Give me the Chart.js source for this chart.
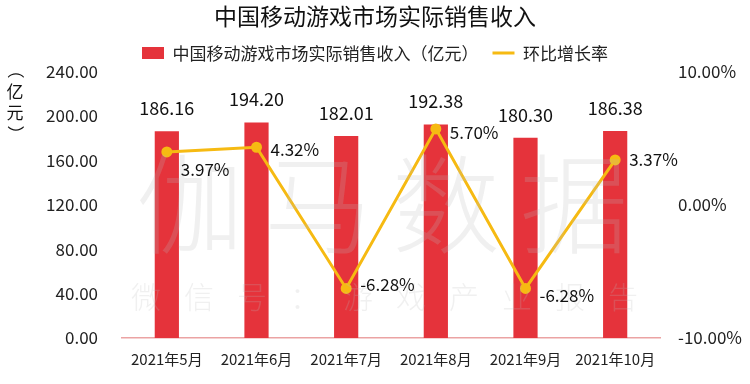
<!DOCTYPE html>
<html>
<head>
<meta charset="utf-8">
<script src="https://cdn.jsdelivr.net/npm/chart.js@4"></script>
<style>
  html, body { margin: 0; padding: 0; background: #fff; }
  #wrap { width: 750px; height: 384px; }
</style>
</head>
<body>
<div id="wrap"><canvas id="c"></canvas></div>
<script>
const months = ['2021年5月', '2021年6月', '2021年7月', '2021年8月', '2021年9月', '2021年10月']
const revenue = [186.16, 194.20, 182.01, 192.38, 180.30, 186.38]
const growth = [3.97, 4.32, -6.28, 5.70, -6.28, 3.37]
const leftTicks = [0, 40, 80, 120, 160, 200, 240]
const rightTicks = [-10, 0, 10]

const FONT = '"Noto Sans CJK SC", "Noto Sans", sans-serif'

// labels over bars and next to points, plus axis unit and watermark
const extras = {
    id: 'extras',
    afterDatasetsDraw(chart){
        const ctx = chart.ctx
        ctx.save()

        // watermark
        ctx.fillStyle = 'rgba(185,185,185,0.22)'
        ctx.textAlign = 'center'
        ctx.textBaseline = 'middle'
        ctx.font = '200 108px ' + FONT
        const big = '伽马数据'
        const bigX = [190, 318, 446, 574]
        big.split('').forEach((ch, i) => ctx.fillText(ch, bigX[i], 204))
        ctx.font = '200 30px ' + FONT
        const small = '微信号：游戏产业报告'
        small.split('').forEach((ch, i) => ctx.fillText(ch, 146 + i * 53, 297))

        // bar values
        ctx.fillStyle = '#111'
        ctx.font = '18px ' + FONT
        ctx.textAlign = 'center'
        ctx.textBaseline = 'bottom'
        chart.getDatasetMeta(0).data.forEach((bar, i) => {
            ctx.fillText(revenue[i].toFixed(2), bar.x, bar.y - 14)
        })

        // growth values
        const dy = [18, 2, -4, 4, 7, 0]
        ctx.font = '17px ' + FONT
        ctx.textAlign = 'left'
        ctx.textBaseline = 'middle'
        chart.getDatasetMeta(1).data.forEach((pt, i) => {
            ctx.fillText(growth[i].toFixed(2) + '%', pt.x + 14, pt.y + dy[i])
        })

        // unit of the left axis, written top to bottom
        ctx.font = '17px ' + FONT
        ctx.textAlign = 'center'
        ctx.fillText('亿', 15, 92)
        ctx.fillText('元', 15, 113)
        ctx.save()
        ctx.translate(15, 70)
        ctx.rotate(Math.PI / 2)
        ctx.fillText('（', 0, 0)
        ctx.restore()
        ctx.save()
        ctx.translate(15, 134)
        ctx.rotate(Math.PI / 2)
        ctx.fillText('）', 0, 0)
        ctx.restore()
        ctx.restore()
    }
}

new Chart(document.getElementById('c'), {
    data: {
        labels: months,
        datasets: [
            {
                type: 'bar',
                label: '中国移动游戏市场实际销售收入（亿元）',
                data: revenue,
                backgroundColor: '#E5333B',
                yAxisID: 'y',
                barPercentage: 0.27,
                categoryPercentage: 1,
                order: 2
            },
            {
                type: 'line',
                label: '环比增长率',
                data: growth,
                borderColor: '#F6BA12',
                backgroundColor: '#F6BA12',
                borderWidth: 3,
                pointRadius: 4,
                pointHoverRadius: 4,
                tension: 0,
                yAxisID: 'y1',
                order: 1
            }
        ]
    },
    options: {
        responsive: true,
        maintainAspectRatio: false,
        animation: false,
        events: [],
        layout: { padding: { left: 0, right: 0, top: 0, bottom: 4 } },
        plugins: {
            title: {
                display: true,
                text: '中国移动游戏市场实际销售收入',
                color: '#111',
                font: { family: FONT, size: 23, weight: 'normal' },
                padding: { top: 2, bottom: 1 }
            },
            legend: {
                display: true,
                position: 'top',
                labels: {
                    color: '#222',
                    font: { family: FONT, size: 17 },
                    usePointStyle: true,
                    pointStyleWidth: 22,
                    boxHeight: 12,
                    padding: 14,
                    sort: (a, b) => a.datasetIndex - b.datasetIndex,
                    generateLabels(chart){
                        const items = Chart.defaults.plugins.legend.labels.generateLabels(chart)
                        items.forEach(it => {
                            if (it.datasetIndex === 0) { it.pointStyle = 'rect'; it.lineWidth = 0 }
                            else { it.pointStyle = 'line'; it.lineWidth = 3 }
                        })
                        return items
                    }
                }
            },
            tooltip: { enabled: false }
        },
        scales: {
            x: {
                grid: { display: false, drawTicks: false },
                border: { display: true, color: '#EBA3A3', width: 1.5 },
                ticks: { color: '#222', font: { family: FONT, size: 15 }, padding: 12 }
            },
            y: {
                position: 'left',
                min: 0,
                max: 240,
                afterBuildTicks(scale){ scale.ticks = leftTicks.map(v => ({ value: v })) },
                afterFit(scale){ scale.width = 122 },
                grid: { display: false, drawTicks: false },
                border: { display: false },
                ticks: {
                    color: '#222',
                    font: { family: FONT, size: 17 },
                    padding: 24,
                    callback: v => v.toFixed(2)
                }
            },
            y1: {
                position: 'right',
                min: -10,
                max: 10,
                afterBuildTicks(scale){ scale.ticks = rightTicks.map(v => ({ value: v })) },
                afterFit(scale){ scale.width = 90 },
                grid: { display: false, drawTicks: false },
                border: { display: false },
                ticks: {
                    color: '#222',
                    font: { family: FONT, size: 17 },
                    padding: 18,
                    callback: v => v.toFixed(2) + '%'
                }
            }
        }
    },
    plugins: [extras]
})
</script>
</body>
</html>
